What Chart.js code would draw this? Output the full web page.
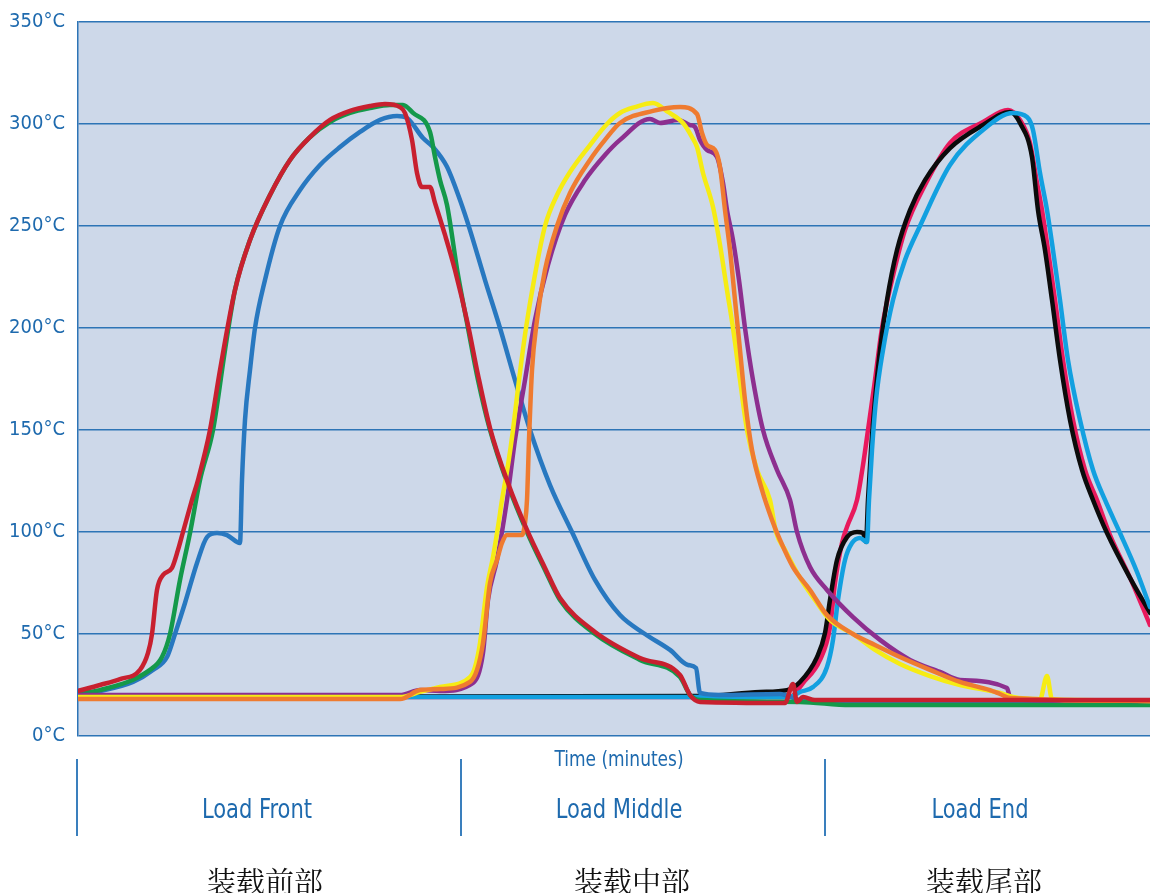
<!DOCTYPE html>
<html><head><meta charset="utf-8">
<script src="https://cdn.jsdelivr.net/npm/chart.js@4.4.1/dist/chart.umd.min.js"></script>
<style>
html,body{margin:0;padding:0;background:#fff;}
#wrap{position:relative;width:1150px;height:893px;overflow:hidden;}
#c{position:absolute;left:0;top:0;}
.lbl{position:absolute;transform:translate(-50%,-50%) scaleX(0.9);white-space:nowrap;font-family:'DejaVu Sans Condensed','DejaVu Sans',sans-serif;font-stretch:condensed;color:#1e6aae;}
.sep{position:absolute;width:2px;background:#3a7fbd;top:759px;height:77px;}
.zh{position:absolute;transform:translate(-50%,-50%);white-space:nowrap;font-family:'Noto Serif CJK SC','Noto Sans CJK SC',serif;color:#111;font-size:29px;}
</style></head><body>
<div id="wrap"><canvas id="c" width="1150" height="893"></canvas></div>
<script>
// ---- data: [time (min), temperature °C] ----
const frontBlue = [[0,20.6],[2.2,22.1],[5.5,26.5],[7.5,32.4],[8.9,38.7],[9.7,50.0],[10.7,65.2],[11.9,84.8],[12.9,97.5],[13.9,99.5],[14.9,98.5],[16.2,94.6],[16.4,125.5],[16.7,154.9],[17.2,179.4],[17.7,200.0],[18.7,223.5],[20.2,250.0],[22.2,267.6],[24.2,279.9],[26.2,288.7],[28.2,296.1],[30.2,302.0],[31.9,303.9],[32.9,302.9],[34.5,293.1],[35.5,288.7],[36.9,279.0],[38.2,262.7],[39.2,248.0],[40.7,223.5],[42.2,200.0],[43.7,174.5],[45.2,150.0],[47.2,123.0],[49.4,100.0],[51.7,76.5],[54.2,59.3],[56.7,50.0],[59.2,42.2],[61.0,34.8],[61.8,33.3],[62.2,21.1],[64.2,20.1],[70.2,20.6],[72.2,17.6],[82.2,16.2],[107.2,16.2]];
const frontGreen = [[0,21.1],[2.2,22.5],[7.2,32.4],[8.4,38.7],[9.2,50.0],[10.2,76.5],[11.2,99.5],[12.2,125.5],[13.5,150.0],[14.7,189.2],[15.7,218.6],[17.2,243.1],[19.2,265.2],[21.2,282.4],[23.2,293.6],[25.2,301.0],[27.2,305.4],[29.2,307.8],[31.2,309.3],[32.5,309.3],[33.5,305.4],[35.2,296.1],[35.7,283.8],[36.2,272.5],[36.9,260.3],[38.0,226.0],[39.0,200.0],[40.0,174.5],[41.2,150.0],[43.0,123.0],[44.9,100.0],[46.7,81.4],[48.2,66.7],[51.7,50.0],[56.2,37.3],[60.2,28.9],[61.2,20.1],[62.2,17.6],[72.2,16.7],[77.2,15.2],[107.2,15.2]];
const frontRed = [[0,22.1],[2.2,25.0],[4.2,27.9],[6.2,32.4],[7.0,40.7],[7.4,50.0],[7.9,71.6],[8.5,78.9],[9.4,82.4],[10.0,91.2],[10.5,100.0],[11.4,115.7],[12.0,125.5],[13.2,150.0],[14.2,179.4],[15.7,218.6],[17.2,243.1],[19.2,265.2],[21.2,282.4],[23.2,293.6],[25.2,302.0],[27.2,306.4],[29.2,308.8],[30.7,309.8],[32.2,308.3],[32.7,305.4],[33.4,292.2],[33.9,276.0],[34.4,269.1],[35.2,269.1],[35.7,261.3],[36.7,245.6],[37.7,228.4],[39.0,201.5],[40.0,177.0],[41.2,151.0],[43.0,124.0],[44.9,101.0],[46.7,82.4],[48.2,67.6],[51.7,51.0],[56.2,38.2],[60.2,29.9],[61.2,20.1],[62.2,16.7],[70.7,16.2],[71.5,25.5],[71.9,16.7],[72.5,19.1],[73.7,17.6],[107.2,17.6]];
const middleYellow = [[0,19.1],[32.2,19.1],[34.2,21.6],[36.2,24.0],[39.2,28.9],[39.7,33.8],[40.2,45.6],[40.9,73.0],[41.5,87.7],[42.0,102.5],[42.4,115.7],[43.0,132.8],[43.5,150.0],[44.1,174.5],[44.8,200.0],[45.6,223.5],[46.7,250.0],[47.9,265.2],[49.2,276.5],[51.2,289.7],[52.9,300.0],[54.2,305.4],[55.7,308.3],[57.5,310.3],[59.0,305.9],[60.5,300.5],[61.4,293.6],[61.9,288.7],[62.5,276.0],[63.5,259.3],[64.2,240.7],[64.9,218.6],[65.5,200.0],[66.2,174.5],[66.9,150.0],[67.9,130.4],[69.2,115.7],[69.8,100.0],[70.7,91.2],[72.2,77.5],[73.7,66.7],[75.2,56.9],[77.5,50.0],[79.7,42.2],[82.2,35.3],[85.2,29.4],[88.2,25.0],[92.2,21.1],[93.5,19.1],[96.2,18.1],[96.9,29.4],[97.4,18.1],[99.2,17.6],[107.2,17.2]];
const middleOrange = [[0,18.1],[32.2,18.1],[34.2,22.5],[36.2,23.0],[39.2,26.5],[39.9,32.4],[40.5,45.6],[41.2,75.0],[41.9,86.3],[42.4,94.6],[42.9,98.5],[44.4,98.5],[44.7,104.4],[44.9,115.7],[45.1,145.1],[45.4,179.4],[45.9,203.9],[46.7,228.4],[47.9,250.0],[49.2,266.2],[51.2,282.4],[52.7,292.2],[54.2,300.5],[57.5,306.4],[60.2,308.3],[61.9,304.9],[62.4,295.6],[62.9,289.7],[63.7,287.3],[64.2,278.9],[64.7,257.8],[65.2,238.2],[65.7,213.7],[66.2,189.2],[66.7,164.7],[67.4,140.2],[68.4,120.6],[69.4,105.9],[70.2,96.1],[71.5,82.8],[73.2,71.6],[74.9,59.3],[77.5,50.0],[79.7,44.6],[82.2,38.7],[85.2,32.4],[88.2,26.5],[91.2,22.5],[92.2,20.6],[93.2,18.6],[107.2,17.2]];
const middlePurple = [[0,20.1],[32.2,20.1],[34.2,22.5],[36.2,22.1],[39.5,26.0],[40.5,40.7],[41.0,66.7],[41.9,86.3],[42.9,115.7],[43.7,145.1],[44.7,174.5],[45.7,203.9],[47.0,230.9],[48.7,255.4],[50.7,272.5],[52.7,284.8],[54.2,292.2],[57.2,302.5],[58.2,300.5],[60.0,302.0],[61.2,299.5],[61.7,298.5],[62.2,292.2],[62.9,287.3],[63.9,283.8],[64.5,271.1],[64.9,257.8],[65.5,243.1],[66.1,223.5],[66.7,200.0],[67.5,174.5],[68.5,150.0],[69.9,130.4],[71.2,115.7],[71.9,100.0],[73.2,82.8],[74.9,71.6],[77.5,58.3],[80.2,47.1],[83.2,37.3],[86.2,31.4],[88.2,27.5],[92.9,23.5],[93.2,19.1],[95.2,17.6],[107.2,17.2]];
const endBlack = [[0,19.1],[62.2,19.6],[68.2,21.6],[70.9,22.5],[72.2,26.5],[73.9,38.7],[74.7,50.5],[75.2,66.7],[75.9,86.3],[76.9,97.5],[77.9,100.0],[78.5,99.5],[78.8,95.1],[79.0,115.7],[79.3,140.2],[79.7,164.7],[80.2,189.2],[80.9,213.7],[81.9,238.2],[83.2,257.8],[84.7,272.5],[87.2,288.2],[90.5,299.5],[93.2,305.9],[94.2,300.5],[95.4,283.8],[96.0,257.8],[96.7,238.2],[97.4,213.7],[98.2,184.3],[99.2,154.9],[100.4,130.4],[101.5,115.7],[102.9,99.5],[105.2,77.5],[107.2,60.3]];
const endPink = [[0,19.1],[71.2,19.1],[72.5,26.0],[74.2,37.3],[75.2,53.4],[75.7,75.0],[76.4,94.6],[76.9,102.5],[77.9,115.7],[78.5,132.8],[79.0,150.0],[79.7,174.5],[80.4,200.0],[81.4,223.5],[82.7,248.0],[84.7,270.1],[87.2,290.7],[90.5,301.0],[93.0,306.9],[94.2,302.0],[95.2,290.7],[95.9,271.1],[96.4,257.8],[97.0,238.2],[97.7,213.7],[98.5,184.3],[99.5,154.9],[100.7,130.4],[101.9,115.7],[103.2,98.5],[105.4,75.5],[107.2,54.4]];
const endLightBlue = [[0,19.1],[71.2,19.1],[72.2,21.6],[73.5,24.0],[74.9,33.8],[75.5,47.1],[76.0,66.7],[76.7,86.3],[77.4,94.6],[78.2,97.1],[78.9,95.1],[79.1,115.7],[79.4,140.2],[79.8,164.7],[80.5,189.2],[81.5,213.7],[82.7,233.3],[84.2,250.0],[87.2,279.9],[90.5,297.1],[93.5,305.4],[94.9,303.4],[95.5,297.1],[96.2,276.0],[96.9,257.8],[97.5,238.2],[98.2,213.7],[99.0,184.3],[100.2,154.9],[101.5,130.4],[102.7,115.7],[104.2,99.5],[105.9,80.4],[107.2,63.2]];

const yTicks = [0,50,100,150,200,250,300,350];
const xAxisTitle = 'Time (minutes)';
const zoneLabels = ['Load Front','Load Middle','Load End'];
const zoneLabelsZh = ['装载前部','装载中部','装载尾部'];

// ---- styling / layout (first listed = drawn on top) ----
const series = [
  {name:'Front 3', data:frontRed, color:'#c8202f'},
  {name:'Middle 2', data:middleOrange, color:'#ef7b30'},
  {name:'Middle 1', data:middleYellow, color:'#f6ec14'},
  {name:'Middle 3', data:middlePurple, color:'#8d2f8f'},
  {name:'Front 2', data:frontGreen, color:'#14994a'},
  {name:'Front 1', data:frontBlue, color:'#2878c0'},
  {name:'End 3', data:endLightBlue, color:'#12a0e0'},
  {name:'End 1', data:endBlack, color:'#0b0b0b'},
  {name:'End 2', data:endPink, color:'#e8195c'}
];
const axisBlue = '#2d74b6';
const textBlue = '#1e6aae';

const bgPlugin = {
  id:'plotBg',
  beforeDraw(chart){
    const {ctx, chartArea:a} = chart;
    ctx.save(); ctx.fillStyle = '#cdd8e9';
    ctx.fillRect(a.left, a.top, a.right - a.left, a.bottom - a.top);
    ctx.restore();
  }
};

new Chart(document.getElementById('c'), {
  type:'line',
  data:{
    datasets: series.map((s,i)=>({
      label:s.name,
      data:s.data.map(p=>({x:p[0], y:p[1]})),
      borderColor:s.color,
      backgroundColor:s.color,
      borderWidth:4.5,
      pointRadius:0,
      cubicInterpolationMode:'monotone',
      borderJoinStyle:'round',
      borderCapStyle:'round',
      order:i,
      fill:false
    }))
  },
  options:{
    responsive:false,
    animation:false,
    devicePixelRatio:1,
    layout:{padding:{top:22,right:0,bottom:157,left:0}},
    plugins:{legend:{display:false}, tooltip:{enabled:false}},
    scales:{
      x:{type:'linear', min:0, max:107.2, display:false},
      y:{
        min:0, max:350,
        afterBuildTicks(scale){ scale.ticks = yTicks.map(v=>({value:v})); },
        afterFit(scale){ scale.width = 78; scale.paddingTop = 0; scale.paddingBottom = 0; },
        ticks:{
          callback:v=>v+'°C',
          color:textBlue,
          padding:13,
          font:{family:"'DejaVu Sans Condensed','DejaVu Sans',sans-serif", size:20}
        },
        grid:{color:axisBlue, lineWidth:1.5, drawTicks:false},
        border:{display:true, color:axisBlue, width:1.5}
      }
    }
  },
  plugins:[bgPlugin]
});

// ---- bottom annotations ----
const wrap = document.getElementById('wrap');
function addDiv(cls, text, left, top, size){
  const d = document.createElement('div');
  d.className = cls; d.textContent = text;
  d.style.left = left + 'px'; d.style.top = top + 'px';
  if(size) d.style.fontSize = size + 'px';
  wrap.appendChild(d);
}
addDiv('lbl', xAxisTitle, 619, 759, 21);
const zoneCenters = [257, 619, 980];
const zhCenters = [265, 632, 984];
zoneLabels.forEach((t,i)=>addDiv('lbl', t, zoneCenters[i], 809, 26));
zoneLabelsZh.forEach((t,i)=>addDiv('zh', t, zhCenters[i], 880));
[76, 460, 824].forEach(x=>{
  const s = document.createElement('div'); s.className='sep'; s.style.left = x+'px'; wrap.appendChild(s);
});
</script>
</body></html>
